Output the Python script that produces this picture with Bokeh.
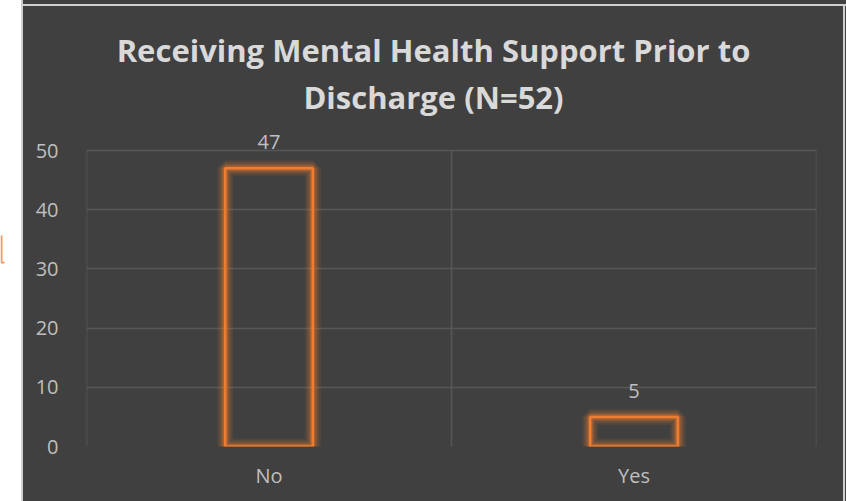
from bokeh.plotting import figure
from bokeh.models import Range1d, FixedTicker, ColumnDataSource
from bokeh.layouts import row, column
from bokeh.embed import file_html
from bokeh.resources import INLINE
from bokeh.core.properties import value

# ---- data ----
categories = ["No", "Yes"]
counts = [47, 5]
y_ticks = [0, 10, 20, 30, 40, 50]
title_lines = ["Receiving Mental Health Support Prior to", "Discharge (N=52)"]

BG = "#404040"
ORANGE = "#ED7D31"
TXT = "#bfbfbf"
BORDER = "#cfcfcf"
GRID = "#575757"
FONT = "Open Sans"


def block(w, h, bg):
    f = figure(width=w, height=h, x_range=Range1d(0, w), y_range=Range1d(h, 0),
               toolbar_location=None, output_backend="svg", min_border=0,
               x_axis_location=None, y_axis_location=None,
               background_fill_color=bg, border_fill_color=bg)
    f.grid.visible = False
    f.outline_line_color = None
    f.styles = {"background-color": bg}
    return f


# left white strip with a fragment of an orange underline
left = block(21, 501, "white")
left.line([1, 1], [235, 261], line_color="#F09A5E", line_width=2)
left.line([0, 4], [262, 262], line_color="#F09A5E", line_width=2)
left_border = block(2, 501, BORDER)

top_dark = block(823, 4, BG)
top_border = block(823, 2, BORDER)
right_border = block(2, 495, BORDER)
right_dark = block(1, 495, BG)

# ---- main chart ----
PAGE_TOP = 6                               # page row where the main figure starts
W, H = 820, 495
FL, FR, FT, FB = 63, 793, 0, 446 - PAGE_TOP
Y_MAX = max(y_ticks)
GRID_TOP_PX = 150 - PAGE_TOP
px_per_unit = (FB - GRID_TOP_PX) / Y_MAX
y_end = (FB - FT) / px_per_unit
n = len(categories)


def px_y(page_y):
    return (FB - (page_y - PAGE_TOP)) / px_per_unit


def px_x(px):
    return (px - FL) / (FR - FL) * n


p = figure(width=W, height=H, x_range=Range1d(0, n), y_range=Range1d(0, y_end),
           toolbar_location=None, output_backend="svg",
           min_border_left=FL, min_border_right=W - FR, min_border_top=FT, min_border_bottom=H - FB,
           background_fill_color=BG, border_fill_color=BG)
p.styles = {"background-color": BG}
p.outline_line_color = None
p.xgrid.visible = False
p.ygrid.ticker = FixedTicker(ticks=y_ticks)
p.ygrid.grid_line_color = GRID
p.ygrid.grid_line_width = 1.5

xpos = [i + 0.5 for i in range(n)]
src = ColumnDataSource(dict(x=xpos, top=counts, lab=[str(c) for c in counts]))

# category boundary lines
bounds = list(range(n + 1))
p.segment(x0=bounds, x1=bounds, y0=[0] * len(bounds), y1=[Y_MAX] * len(bounds),
          line_color=GRID, line_width=1.5)

p.yaxis.ticker = FixedTicker(ticks=y_ticks)
p.xaxis.ticker = FixedTicker(ticks=xpos)
p.xaxis.major_label_overrides = {x: c for x, c in zip(xpos, categories)}
for ax in (p.xaxis[0], p.yaxis[0]):
    ax.axis_line_color = None
    ax.major_tick_line_color = None
    ax.minor_tick_line_color = None
    ax.major_label_text_color = TXT
    ax.major_label_text_font = FONT
    ax.major_label_text_font_size = "20px"
p.yaxis.major_label_standoff = 22
p.xaxis.major_label_standoff = 9

# glow layers
for lw, a in [(16, 0.1), (12, 0.15), (8, 0.22), (5, 0.32)]:
    p.vbar(x="x", top="top", bottom=0, width=0.24, source=src,
           fill_color=None, line_color=ORANGE, line_alpha=a, line_width=lw)
p.vbar(x="x", top="top", bottom=0, width=0.24, source=src,
       fill_color=None, line_color=ORANGE, line_width=2.5)

p.text(x="x", y="top", text="lab", source=src, y_offset=-26,
       text_align="center", text_baseline="alphabetic",
       text_font=value(FONT), text_font_size="20px", text_color=TXT)

# title (two lines)
p.text(x=[px_x(410)] * 2, y=[px_y(49), px_y(96)], text=title_lines,
       text_align="center", text_baseline="alphabetic",
       text_font=value(FONT), text_font_size="31px", text_font_style="bold",
       text_color="#d9d9d9")

right_side = column(top_dark, top_border, row(p, right_border, right_dark, spacing=0), spacing=0)
layout = row(left, left_border, right_side, spacing=0)
open("out.html", "w").write(file_html(layout, INLINE))
